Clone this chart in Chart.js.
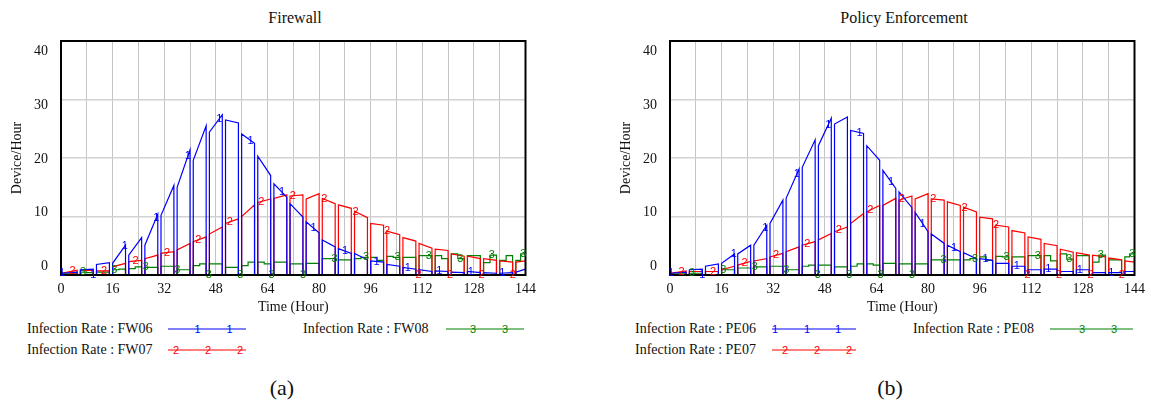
<!DOCTYPE html>
<html>
<head>
<meta charset="utf-8">
<script src="https://cdn.jsdelivr.net/npm/chart.js@4.4.1/dist/chart.umd.min.js"></script>
<style>
  body { margin: 0; width: 1151px; height: 405px; overflow: hidden; position: relative; background: #fff;
         font-family: "Liberation Serif", "Times New Roman", serif; color: #111; }
  .panel { position: absolute; top: 0; }
  .title { position: absolute; top: 8px; width: 468px; text-align: center; font-size: 16px; line-height: 20px; }
  .leg { position: absolute; font-size: 14px; line-height: 16px; white-space: nowrap; }
  .sample { position: absolute; overflow: visible; }
  .sample text { font-family: "Liberation Sans", Arial, sans-serif; font-size: 11px; text-anchor: middle; }
  .cap { position: absolute; top: 375px; font-size: 22px; line-height: 26px; width: 60px; text-align: center; }
</style>
</head>
<body>
<div class="title" style="left:61px">Firewall</div>
<div class="title" style="left:670px">Policy Enforcement</div>

<canvas id="fw" class="panel" style="left:0px" width="542" height="320"></canvas>
<canvas id="pe" class="panel" style="left:609px" width="542" height="320"></canvas>

<div class="leg" style="left:27px; top:321px">Infection Rate : FW06</div>
<svg class="sample" style="left:168px; top:322px" width="78" height="14">
  <line x1="0" y1="7" x2="78" y2="7" stroke="#0000ff" stroke-width="1.2"/>
  <text x="29.5" y="11" fill="#0000ff">1</text><text x="61.6" y="11" fill="#0000ff">1</text>
</svg>
<div class="leg" style="left:27px; top:342px">Infection Rate : FW07</div>
<svg class="sample" style="left:168px; top:343px" width="78" height="14">
  <line x1="0" y1="7" x2="78" y2="7" stroke="#ff0000" stroke-width="1.2"/>
  <text x="8" y="11" fill="#ff0000">2</text><text x="40" y="11" fill="#ff0000">2</text><text x="72" y="11" fill="#ff0000">2</text>
</svg>
<div class="leg" style="left:303px; top:321px">Infection Rate : FW08</div>
<svg class="sample" style="left:446px; top:322px" width="78" height="14">
  <line x1="0" y1="7" x2="78" y2="7" stroke="#008000" stroke-width="1.2"/>
  <text x="27" y="11" fill="#008000">3</text><text x="59" y="11" fill="#008000">3</text>
</svg>

<div class="leg" style="left:635px; top:321px">Infection Rate : PE06</div>
<svg class="sample" style="left:772px; top:322px" width="84" height="14">
  <line x1="0" y1="7" x2="84" y2="7" stroke="#0000ff" stroke-width="1.2"/>
  <text x="3" y="11" fill="#0000ff">1</text><text x="35" y="11" fill="#0000ff">1</text><text x="66" y="11" fill="#0000ff">1</text>
</svg>
<div class="leg" style="left:635px; top:342px">Infection Rate : PE07</div>
<svg class="sample" style="left:772px; top:343px" width="84" height="14">
  <line x1="0" y1="7" x2="84" y2="7" stroke="#ff0000" stroke-width="1.2"/>
  <text x="13" y="11" fill="#ff0000">2</text><text x="45" y="11" fill="#ff0000">2</text><text x="77" y="11" fill="#ff0000">2</text>
</svg>
<div class="leg" style="left:913px; top:321px">Infection Rate : PE08</div>
<svg class="sample" style="left:1050px; top:322px" width="83" height="14">
  <line x1="0" y1="7" x2="83" y2="7" stroke="#008000" stroke-width="1.2"/>
  <text x="32" y="11" fill="#008000">3</text><text x="64" y="11" fill="#008000">3</text>
</svg>

<div class="cap" style="left:252px">(a)</div>
<div class="cap" style="left:860px">(b)</div>

<script>
// each run lasts ~4 hours, then the rate sits at zero for about an hour
const segStart = [0, 6, 11, 16, 21, 26, 31, 36, 41, 46, 51, 56, 61, 66, 71, 76, 81, 86, 91, 96, 101, 106, 111, 116, 121, 126, 131, 136, 141];
const segEnd = [5, 10, 15, 20, 25, 30, 35, 40, 45, 50, 55, 60, 65, 70, 75, 80, 85, 90, 95, 100, 105, 110, 115, 120, 125, 130, 135, 140, 144];

// Firewall (a)
const fw06Start = [0.3, 0.9, 1.8, 2.0, 3.4, 5.1, 10.2, 15.0, 19.6, 24.4, 26.5, 24.1, 20.3, 15.6, 12.2, 9.1, 6.0, 4.5, 3.7, 2.4, 1.8, 1.3, 0.9, 0.7, 0.5, 0.6, 0.4, 0.3, 0.5];
const fw06End = [0.5, 1.0, 2.1, 5.1, 6.4, 10.4, 15.3, 21.4, 25.5, 27.4, 26.0, 22.5, 17.0, 13.3, 9.9, 7.2, 4.8, 3.7, 2.6, 2.2, 1.5, 1.0, 0.6, 0.6, 0.4, 0.4, 0.3, 0.4, 1.0];
const fw07Start = [0.3, 0.8, 0.7, 1.4, 2.3, 2.8, 3.7, 4.3, 5.7, 7.0, 8.8, 10.0, 12.4, 13.1, 13.5, 13.0, 13.1, 12.0, 10.9, 8.8, 7.5, 6.4, 5.4, 4.4, 3.6, 3.2, 2.8, 2.4, 2.2];
const fw07End = [0.8, 0.8, 0.7, 2.0, 2.5, 3.4, 4.0, 5.4, 6.5, 8.2, 9.6, 12.0, 13.0, 13.7, 13.7, 13.9, 12.2, 11.4, 9.8, 8.5, 6.9, 5.8, 4.6, 4.2, 3.2, 2.8, 2.5, 2.2, 2.4];
const fw08First = [0.2, 0.5, 0.5, 0.9, 1.1, 1.3, 1.5, 0.9, 1.6, 1.9, 1.3, 1.6, 2.2, 2.2, 1.9, 2.0, 2.8, 2.6, 2.8, 3.0, 3.2, 3.0, 3.3, 3.3, 3.6, 3.3, 2.1, 2.5, 2.5];
const fw08Second = [0.2, 0.4, 0.5, 1.0, 1.4, 1.3, 1.5, 0.9, 1.9, 1.9, 1.3, 2.2, 1.9, 2.2, 1.9, 2.0, 2.8, 2.6, 3.0, 2.5, 3.0, 3.0, 3.3, 2.8, 2.8, 3.3, 3.4, 3.3, 3.6];

// Policy Enforcement (b)
const pe06Start = [0.3, 0.9, 1.5, 2.0, 3.6, 5.1, 8.8, 13.1, 18.4, 22.1, 25.8, 24.7, 22.1, 17.9, 14.2, 10.7, 7.0, 5.1, 3.8, 2.8, 2.0, 1.5, 0.9, 1.0, 0.6, 0.9, 0.4, 0.4, 0.6];
const pe06End = [0.5, 1.0, 1.9, 3.6, 5.1, 8.5, 12.8, 18.1, 23.1, 26.8, 27.0, 24.2, 19.6, 14.8, 11.5, 7.4, 5.4, 4.0, 2.8, 2.5, 2.0, 1.5, 0.9, 1.0, 0.6, 0.9, 0.4, 0.4, 0.6];
const pe07Start = [0.3, 0.6, 0.6, 0.9, 1.7, 2.4, 3.1, 4.0, 5.1, 6.0, 7.4, 8.8, 10.8, 11.9, 12.8, 13.0, 13.0, 12.5, 11.6, 9.9, 8.5, 7.6, 6.5, 5.4, 4.4, 3.8, 3.4, 2.9, 2.4];
const pe07End = [0.7, 0.6, 0.6, 1.5, 2.3, 2.8, 3.7, 4.8, 5.7, 7.1, 8.2, 10.5, 11.9, 13.1, 13.5, 13.9, 12.8, 11.9, 10.8, 9.6, 8.2, 7.2, 6.1, 5.0, 3.9, 3.4, 3.1, 2.6, 2.2];
const pe08First = [0.2, 0.3, 0.6, 0.9, 1.2, 1.4, 1.5, 0.9, 1.5, 1.7, 1.4, 1.5, 1.9, 2.0, 1.9, 1.9, 2.6, 2.6, 2.6, 3.1, 3.2, 3.1, 3.3, 3.3, 3.6, 3.3, 2.2, 2.6, 3.1];
const pe08Second = [0.2, 0.3, 0.6, 0.9, 1.2, 1.4, 1.5, 0.9, 1.7, 1.7, 1.4, 1.9, 1.7, 2.0, 1.9, 1.9, 2.6, 2.6, 2.8, 2.5, 3.1, 3.1, 3.3, 2.4, 2.7, 3.3, 3.4, 2.6, 3.6];

// hours where the series number is printed on the curve
const mark1Hours = [0.3, 10.05, 19.8, 29.55, 39.3, 49.05, 58.8, 68.55, 78.3, 88.05, 97.8, 107.55, 117.3, 127.05, 136.8];
const mark2Hours = [3.6, 13.35, 23.1, 32.85, 42.6, 52.35, 62.1, 71.85, 81.6, 91.35, 101.1, 110.85, 120.6, 130.35, 140.1];
const mark3Hours = [6.8, 16.55, 26.3, 36.05, 45.8, 55.55, 65.3, 75.05, 84.8, 94.55, 104.3, 114.05, 123.8, 133.55, 143.3];

const yTickLabels = [0, 10, 20, 30, 40];

const serif = '"Liberation Serif", "Times New Roman", serif';

function sawPoints(starts, ends) {
    const pts = [];
    segStart.forEach((s, k) => {
        pts.push({ x: s, y: 0 }, { x: s, y: starts[k] }, { x: segEnd[k], y: ends[k] });
        if (k < segStart.length - 1) pts.push({ x: segEnd[k], y: 0 });
    });
    return pts;
}

function stepPoints(first, second) {
    const pts = [];
    segStart.forEach((s, k) => {
        const e = segEnd[k];
        pts.push({ x: s, y: 0 }, { x: s, y: first[k] }, { x: (s + e) / 2, y: second[k] }, { x: e, y: second[k] });
        if (k < segStart.length - 1) pts.push({ x: e, y: 0 });
    });
    return pts;
}

function valueAt(pts, t, stepped) {
    for (let i = 0; i < pts.length - 1; i++) {
        const p = pts[i], q = pts[i + 1];
        if (q.x > p.x && t >= p.x && t < q.x) {
            return stepped ? p.y : p.y + (q.y - p.y) * (t - p.x) / (q.x - p.x);
        }
    }
    return pts[pts.length - 1].y;
}

const frameAndMarks = {
    id: 'frameAndMarks',
    afterDatasetsDraw(chart) {
        const { ctx, chartArea: a, scales } = chart;
        ctx.save();
        ctx.strokeStyle = '#000';
        ctx.lineWidth = 2;
        ctx.strokeRect(a.left, a.top, a.right - a.left, a.bottom - a.top);
        ctx.font = '11px "Liberation Sans", Arial, sans-serif';
        ctx.textAlign = 'center';
        ctx.textBaseline = 'middle';
        chart.data.datasets.slice().reverse().forEach((ds) => {
            ctx.fillStyle = ds.borderColor;
            ds.markHours.forEach((t) => {
                const v = valueAt(ds.data, t, ds.stepped);
                ctx.fillText(ds.markText, scales.x.getPixelForValue(t), scales.y.getPixelForValue(v));
            });
        });
        ctx.restore();
    }
};

function makeChart(id, blue, red, green) {
    new Chart(document.getElementById(id), {
        type: 'line',
        data: {
            datasets: [
                { data: blue, borderColor: '#0000ff', borderWidth: 1.2, pointRadius: 0, markHours: mark1Hours, markText: '1' },
                { data: red, borderColor: '#ff0000', borderWidth: 1.2, pointRadius: 0, markHours: mark2Hours, markText: '2' },
                { data: green, borderColor: '#008000', borderWidth: 1.2, pointRadius: 0, stepped: true, markHours: mark3Hours, markText: '3' }
            ]
        },
        options: {
            responsive: false,
            animation: false,
            layout: { padding: { top: 41, right: 13, left: 0, bottom: 0 } },
            plugins: { legend: { display: false }, tooltip: { enabled: false } },
            scales: {
                x: {
                    type: 'linear',
                    min: 0,
                    max: 144,
                    border: { display: false },
                    grid: { color: '#c4c4c4', lineWidth: 1, drawTicks: false },
                    ticks: {
                        stepSize: 8,
                        autoSkip: false,
                        maxRotation: 0,
                        padding: 6,
                        color: '#111',
                        font: { family: serif, size: 14 },
                        callback: (v) => (v % 16 === 0 ? v : '')
                    },
                    title: { display: true, text: 'Time (Hour)', color: '#111', font: { family: serif, size: 14 }, padding: { top: 0, bottom: 4 } },
                    afterFit: (s) => { s.height = 45; }
                },
                y: {
                    type: 'linear',
                    position: 'left',
                    min: 0,
                    max: 40,
                    border: { display: false },
                    grid: { color: '#d2d2d2', lineWidth: 1.5, drawTicks: false },
                    ticks: { stepSize: 10, display: false },
                    afterFit: (s) => { s.width = 0; }
                },
                yLab: {
                    type: 'linear',
                    position: 'left',
                    min: -1.58,
                    max: 41.91,
                    border: { display: false },
                    grid: { display: false, drawTicks: false },
                    afterBuildTicks: (s) => { s.ticks = yTickLabels.map((v) => ({ value: v })); },
                    ticks: { padding: 13, color: '#111', font: { family: serif, size: 14 } },
                    title: { display: true, text: 'Device/Hour', color: '#111', font: { family: serif, size: 14 }, padding: { top: 9, bottom: 0 } },
                    afterFit: (s) => { s.width = 61; }
                }
            }
        },
        plugins: [frameAndMarks]
    });
}

makeChart('fw', sawPoints(fw06Start, fw06End), sawPoints(fw07Start, fw07End), stepPoints(fw08First, fw08Second));
makeChart('pe', sawPoints(pe06Start, pe06End), sawPoints(pe07Start, pe07End), stepPoints(pe08First, pe08Second));
</script>
</body>
</html>
